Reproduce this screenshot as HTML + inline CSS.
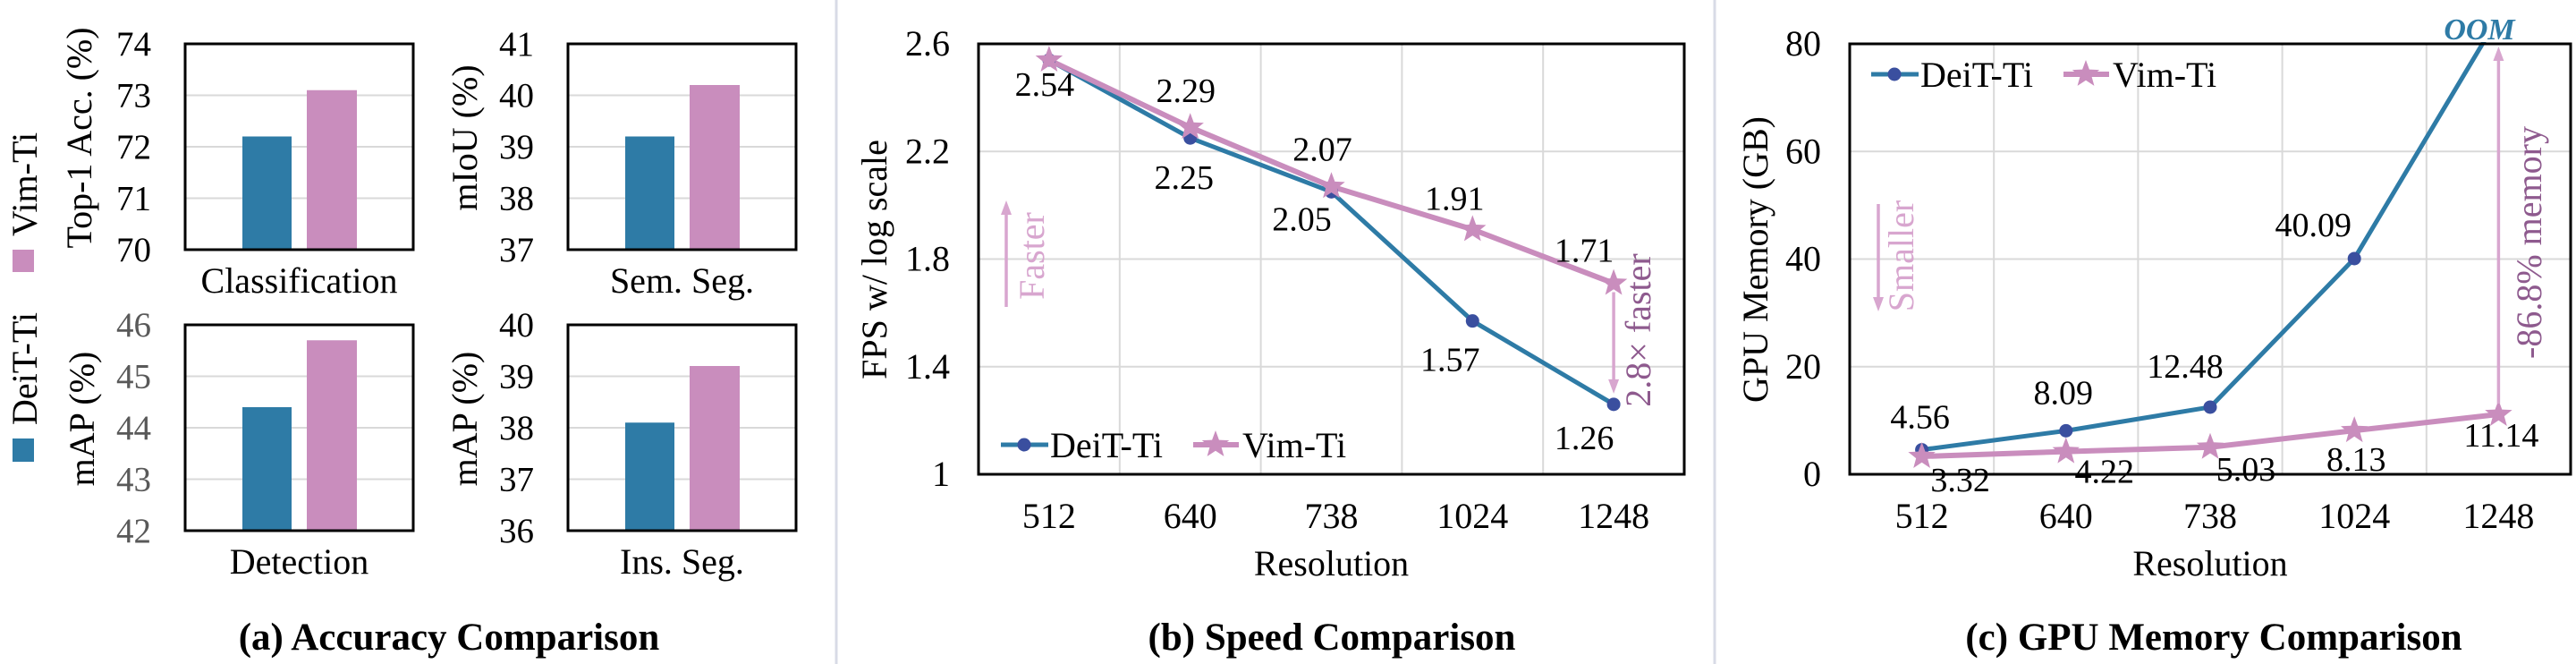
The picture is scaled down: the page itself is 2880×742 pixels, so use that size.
<!DOCTYPE html>
<html><head><meta charset="utf-8"><style>
html,body{margin:0;padding:0;background:#fff}
svg{display:block;font-family:"Liberation Serif","DejaVu Serif","Times New Roman",serif}
svg text{font-family:"Liberation Serif","DejaVu Serif","Times New Roman",serif}
</style></head><body>
<svg id="fig" width="2880" height="742" viewBox="0 0 2880 742" xmlns="http://www.w3.org/2000/svg">
<rect width="2880" height="742" fill="#fff"/>
<line x1="935" y1="0" x2="935" y2="742" stroke="#d8dbe6" stroke-width="3"/>
<line x1="1917" y1="0" x2="1917" y2="742" stroke="#d8dbe6" stroke-width="3"/>
<g id="pa"></g>
<g id="pb"></g>
<g id="pc"></g>
</svg>
<script>
// ---- Panel (a) data ----
const accTasks = ["Classification","Sem. Seg.","Detection","Ins. Seg."];
const accYTitles = ["Top-1 Acc. (%)","mIoU (%)","mAP (%)","mAP (%)"];
const accMin = [70,37,42,36];
const accMax = [74,41,46,40];
const accDeit = [72.2,39.2,44.4,38.1];
const accVim = [73.1,40.2,45.7,39.2];
// ---- Panel (b) data ----
const resolutions = ["512","640","738","1024","1248"];
const fpsDeit = [2.54,2.25,2.05,1.57,1.26];
const fpsVim = [2.54,2.29,2.07,1.91,1.71];
const fpsTicks = [1,1.4,1.8,2.2,2.6];
const fpsTickLabels = ["1","1.4","1.8","2.2","2.6"];
// ---- Panel (c) data ----
const memDeit = [4.56,8.09,12.48,40.09,85];
const memVim = [3.32,4.22,5.03,8.13,11.14];
const memTicks = [0,20,40,60,80];
const memTickLabels = ["0","20","40","60","80"];
const memDeitLabels = ["4.56","8.09","12.48","40.09",""];
const memVimLabels = ["3.32","4.22","5.03","8.13","11.14"];

const NS="http://www.w3.org/2000/svg";
const FF="'Liberation Serif', 'DejaVu Serif', serif";
const BLUE="#2e7ba6", PINK="#c98dbd", MARK="#3a4f9f";
function mk(parent,tag,attrs,txt){const e=document.createElementNS(NS,tag);for(const k in attrs)e.setAttribute(k,attrs[k]);if(tag==='text')e.style.fontFamily=FF;if(txt!==undefined)e.textContent=txt;parent.appendChild(e);return e;}
function starPts(cx,cy,r){let p=[];for(let i=0;i<10;i++){const a=-Math.PI/2+i*Math.PI/5;const rr=i%2?r*0.42:r;p.push((cx+rr*Math.cos(a)).toFixed(1)+","+(cy+rr*Math.sin(a)).toFixed(1));}return p.join(" ");}

// ===== Panel (a) =====
const pa=document.getElementById('pa');
const boxes=[{x0:207,x1:462,y0:49,y1:279},{x0:635,x1:890,y0:49,y1:279},{x0:207,x1:462,y0:363,y1:593},{x0:635,x1:890,y0:363,y1:593}];
const barOff=[[64,55],[136,56]];
const titleX=[89,520,92,520];
accTasks.forEach((t,i)=>{
  const b=boxes[i];
  const ys=v=>b.y1-(v-accMin[i])/(accMax[i]-accMin[i])*(b.y1-b.y0);
  const g=mk(pa,'g',{});
  
  
  const tickCol = i===2 ? "#595959" : "#000";
  for(let v=accMin[i];v<=accMax[i];v++){
    const y=ys(v);
    if(v>accMin[i]&&v<accMax[i]){const gl=mk(g,'line',{x1:b.x0,x2:b.x1,y1:y,y2:y,stroke:"#d9d9d9","stroke-width":2});
      }
    const tl=mk(g,'text',{x:b.x0-38,y:y+13,"text-anchor":"end","font-size":39,fill:tickCol},String(v));
    
  }
  const bd=mk(g,'rect',{x:b.x0+barOff[0][0],y:ys(accDeit[i]),width:barOff[0][1],height:b.y1-ys(accDeit[i]),fill:BLUE});
  
  const bv=mk(g,'rect',{x:b.x0+barOff[1][0],y:ys(accVim[i]),width:barOff[1][1],height:b.y1-ys(accVim[i]),fill:PINK});
  
  const fr=mk(g,'rect',{x:b.x0,y:b.y0,width:b.x1-b.x0,height:b.y1-b.y0,fill:"none",stroke:"#000","stroke-width":3});
  
  const cl=mk(g,'text',{x:(b.x0+b.x1)/2,y:b.y1+48,"text-anchor":"middle","font-size":40},t);
  
  const cy=(b.y0+b.y1)/2;
  const yt=mk(g,'text',{x:0,y:0,"text-anchor":"middle","font-size":40,transform:`translate(${titleX[i]+13},${cy-10}) rotate(-90)`},accYTitles[i]);
  
});
// legend (a)
const lg=mk(pa,'g',{});

const ls1=mk(lg,'rect',{x:14,y:279,width:24,height:25,fill:PINK});

const lt1=mk(lg,'text',{x:0,y:0,"text-anchor":"middle","font-size":40,transform:"translate(41,206) rotate(-90)"},"Vim-Ti");

const ls2=mk(lg,'rect',{x:14,y:490,width:24,height:26,fill:BLUE});

const lt2=mk(lg,'text',{x:0,y:0,"text-anchor":"middle","font-size":40,transform:"translate(41,412) rotate(-90)"},"DeiT-Ti");

const ta=mk(pa,'text',{x:502,y:726,"text-anchor":"middle","font-size":43,"font-weight":"bold"},"(a) Accuracy Comparison");


// ===== line chart helper =====
function lineChart(p,o){
  const {x0,x1,y0,y1,ymin,ymax}=o;
  const n=resolutions.length, step=(x1-x0)/n;
  const xs=i=>x0+step*(i+0.5);
  const ys=v=>y1-(v-ymin)/(ymax-ymin)*(y1-y0);
  for(let i=1;i<n;i++){const l=mk(p,'line',{x1:x0+step*i,x2:x0+step*i,y1:y0,y2:y1,stroke:"#d9d9d9","stroke-width":2});
    }
  o.ticks.forEach((v,i)=>{
    const y=ys(v);
    if(v>ymin&&v<ymax){const l=mk(p,'line',{x1:x0,x2:x1,y1:y,y2:y,stroke:"#d9d9d9","stroke-width":2});
      }
    const t=mk(p,'text',{x:x0-32,y:y+13,"text-anchor":"end","font-size":40},o.tickLabels[i]);
    
  });
  resolutions.forEach((r,i)=>{const t=mk(p,'text',{x:xs(i),y:590,"text-anchor":"middle","font-size":40},r);
    });
  const xt=mk(p,'text',{x:(x0+x1)/2,y:643,"text-anchor":"middle","font-size":40},"Resolution");
  
  const cid='clip'+o.id;
  const cp=mk(p,'clipPath',{id:cid});mk(cp,'rect',{x:x0,y:y0-2,width:x1-x0,height:y1-y0+4});
  const gl=mk(p,'g',{"clip-path":`url(#${cid})`});
  const dp=mk(gl,'polyline',{points:o.deit.map((v,i)=>xs(i)+","+ys(v)).join(" "),fill:"none",stroke:BLUE,"stroke-width":5,"stroke-linejoin":"round"});
  
  const vp=mk(gl,'polyline',{points:o.vim.map((v,i)=>xs(i)+","+ys(v)).join(" "),fill:"none",stroke:PINK,"stroke-width":6,"stroke-linejoin":"round"});
  
  o.deit.forEach((v,i)=>{if(ys(v)<y0)return;const c=mk(gl,'circle',{cx:xs(i),cy:ys(v),r:7.5,fill:MARK});
    });
  o.vim.forEach((v,i)=>{const s=mk(gl,'polygon',{points:starPts(xs(i),ys(v),16),fill:PINK});
    });
  const fr=mk(p,'rect',{x:x0,y:y0,width:x1-x0,height:y1-y0,fill:"none",stroke:"#000","stroke-width":3});
  
  const yt=mk(p,'text',{x:0,y:0,"text-anchor":"middle","font-size":40,transform:`translate(${o.ytx},290) rotate(-90)`},o.ytitle);
  
  const L=o.leg;
  const lg=mk(p,'g',{});
  
  mk(lg,'line',{x1:L.x,x2:L.x+53,y1:L.y,y2:L.y,stroke:BLUE,"stroke-width":5});
  mk(lg,'circle',{cx:L.x+26,cy:L.y,r:7.5,fill:MARK});
  const a=mk(lg,'text',{x:L.x+55,y:L.y+14,"font-size":40},"DeiT-Ti");
  
  mk(lg,'line',{x1:L.x+215,x2:L.x+266,y1:L.y,y2:L.y,stroke:PINK,"stroke-width":6});
  mk(lg,'polygon',{points:starPts(L.x+240,L.y,16),fill:PINK});
  const b=mk(lg,'text',{x:L.x+270,y:L.y+14,"font-size":40},"Vim-Ti");
  
  return {xs,ys};
}
function label(p,x,y,t,name){const e=mk(p,'text',{x,y,"text-anchor":"middle","font-size":38},t);
  }
function arrow(p,x,ya,yb,col,name){
  const g=mk(p,'g',{});
  
  const d=yb<ya?1:-1;
  mk(g,'line',{x1:x,x2:x,y1:ya,y2:yb+d*8,stroke:col,"stroke-width":3.5});
  mk(g,'polygon',{points:`${x},${yb} ${x-6},${yb+d*16} ${x+6},${yb+d*16}`,fill:col});
}

// ===== Panel (b) =====
const pb=document.getElementById('pb');
const B=lineChart(pb,{id:'b',x0:1094,x1:1883,y0:49,y1:530,ymin:1,ymax:2.6,ticks:fpsTicks,tickLabels:fpsTickLabels,deit:fpsDeit,vim:fpsVim,ytitle:"FPS w/ log scale",ytx:991,leg:{x:1119,y:497}});
const bDeitOff=[[-5,40],[-7,57],[-33,43],[-25,56],[-33,50]];
const bVimOff=[[0,0],[-5,-28],[-10,-29],[-20,-22],[-33,-24]];
fpsDeit.forEach((v,i)=>label(pb,B.xs(i)+bDeitOff[i][0],B.ys(v)+bDeitOff[i][1],v.toFixed(2),'deit-value-label'));
fpsVim.forEach((v,i)=>{if(i>0)label(pb,B.xs(i)+bVimOff[i][0],B.ys(v)+bVimOff[i][1],v.toFixed(2),'vim-value-label');});
arrow(pb,1125,343,224,"#d8a6cf",'faster-arrow');
const tf=mk(pb,'text',{x:0,y:0,"text-anchor":"middle","font-size":40,fill:"#d8a6cf",transform:"translate(1167,286) rotate(-90)"},"Faster");

arrow(pb,B.xs(4),B.ys(fpsVim[4])+10,B.ys(fpsDeit[4])-12,"#d8a6cf",'speedup-arrow');
const t28=mk(pb,'text',{x:0,y:0,"text-anchor":"middle","font-size":40,fill:"#8e5a8e",transform:"translate(1845,369) rotate(-90)"},"2.8× faster");

const tb=mk(pb,'text',{x:1489,y:726,"text-anchor":"middle","font-size":43,"font-weight":"bold"},"(b) Speed Comparison");


// ===== Panel (c) =====
const pc=document.getElementById('pc');
const C=lineChart(pc,{id:'c',x0:2068,x1:2874,y0:49,y1:530,ymin:0,ymax:80,ticks:memTicks,tickLabels:memTickLabels,deit:memDeit,vim:memVim,ytitle:"GPU Memory (GB)",ytx:1976,leg:{x:2092,y:83}});
const cDeitOff=[[-2,-24],[-3,-30],[-28,-33],[-46,-25]];
const cVimOff=[[43,27],[43,23],[40,25],[2,33],[3,24]];
memDeit.forEach((v,i)=>{if(memDeitLabels[i])label(pc,C.xs(i)+cDeitOff[i][0],C.ys(v)+cDeitOff[i][1],memDeitLabels[i],'deit-value-label');});
memVim.forEach((v,i)=>label(pc,C.xs(i)+cVimOff[i][0],C.ys(v)+cVimOff[i][1]+12,memVimLabels[i],'vim-value-label'));
const oom=mk(pc,'text',{x:2772,y:44,"text-anchor":"middle","font-size":34,"font-weight":"bold","font-style":"italic",fill:BLUE},"OOM");

arrow(pc,2100,228,348,"#d8a6cf",'smaller-arrow');
const ts=mk(pc,'text',{x:0,y:0,"text-anchor":"middle","font-size":40,fill:"#d8a6cf",transform:"translate(2139,286) rotate(-90)"},"Smaller");

arrow(pc,C.xs(4),C.ys(memVim[4])-12,52,"#d8a6cf",'memory-reduction-arrow');
const t86=mk(pc,'text',{x:0,y:0,"text-anchor":"middle","font-size":40,fill:"#8e5a8e",transform:"translate(2841,271) rotate(-90)"},"-86.8% memory");

const tc=mk(pc,'text',{x:2475,y:726,"text-anchor":"middle","font-size":43,"font-weight":"bold"},"(c) GPU Memory Comparison");

</script>
</body></html>
